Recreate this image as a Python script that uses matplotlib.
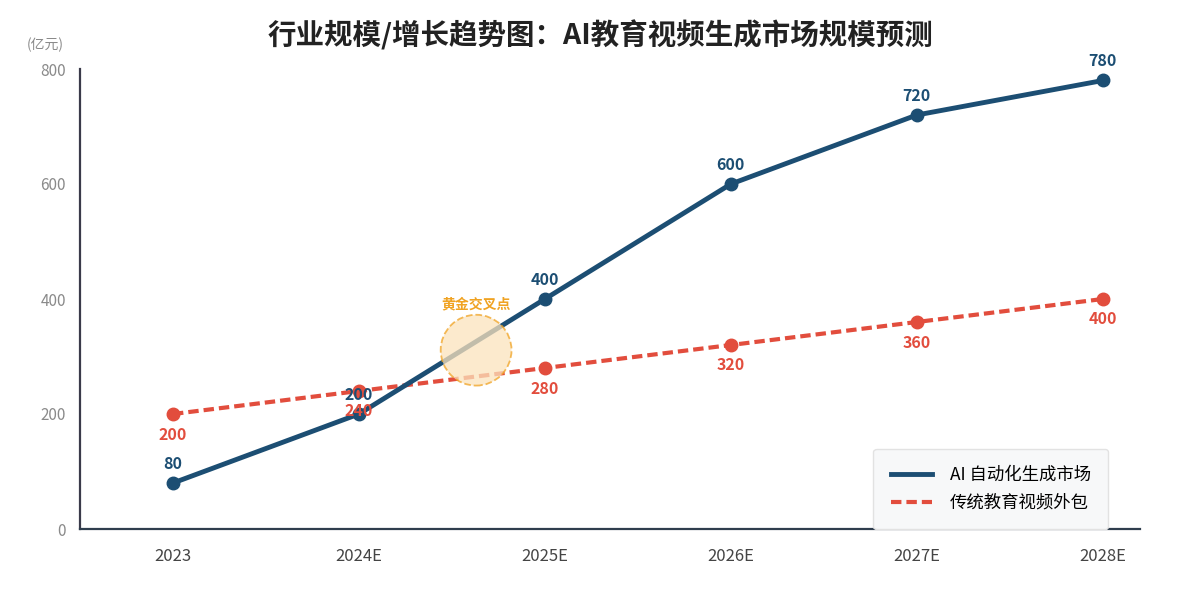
import matplotlib
matplotlib.use("Agg")
import matplotlib.pyplot as plt
import numpy as np

plt.rcParams['font.family'] = ['Noto Sans CJK SC', 'DejaVu Sans']

# data
years = ["2023", "2024E", "2025E", "2026E", "2027E", "2028E"]
ai_market = [80, 200, 400, 600, 720, 780]
traditional = [200, 240, 280, 320, 360, 400]
cross_label = "黄金交叉点"
cross_year_pos = 1.63
cross_value = 311

blue = "#1c4e73"
red = "#e24d3d"
gold = "#f0a323"

fig = plt.figure(figsize=(12, 6), dpi=100)
ax = fig.add_axes([80 / 1200, 71 / 600, 1060 / 1200, 460 / 600])

x = np.arange(len(years))

ax.plot(x, ai_market, color=blue, lw=3.5, marker='o', ms=9, zorder=4,
        label="AI 自动化生成市场", clip_on=False)
ax.plot(x, traditional, color=red, lw=3, ls=(0, (2.5, 1.2)), marker='o', ms=9,
        zorder=3, label="传统教育视频外包", clip_on=False)

for xi, v in zip(x, ai_market):
    ax.annotate(str(v), (xi, v), xytext=(0, 8), textcoords='offset points',
                ha='center', va='bottom', color=blue, fontsize=11.5,
                fontweight='bold', zorder=6)
for xi, v in zip(x, traditional):
    ax.annotate(str(v), (xi, v), xytext=(0, -9), textcoords='offset points',
                ha='center', va='top', color=red, fontsize=11.5,
                fontweight='bold', zorder=5)

# golden cross highlight
ax.scatter([cross_year_pos], [cross_value], s=2600, facecolor='#fbe3bd',
           edgecolor=gold, linestyle='--', linewidth=1.3, alpha=0.75, zorder=5)
ax.annotate(cross_label, (cross_year_pos, cross_value), xytext=(0, 28),
            textcoords='offset points', ha='center', va='bottom',
            color=gold, fontsize=10, fontweight='bold')

ax.set_xlim(-0.5, 5.2)
ax.set_ylim(0, 800)
ax.set_xticks(x)
ax.set_xticklabels(years)
ax.set_yticks([0, 200, 400, 600, 800])
ax.tick_params(axis='x', length=0, pad=14, labelsize=12, labelcolor='#444444')
ax.tick_params(axis='y', length=0, pad=10, labelsize=11, labelcolor='#8a8a8a')

for side in ['top', 'right']:
    ax.spines[side].set_visible(False)
ax.spines['left'].set_color('#3a3a4a')
ax.spines['left'].set_linewidth(1.6)
ax.spines['bottom'].set_color('#2f3e4e')
ax.spines['bottom'].set_linewidth(1.6)

fig.text(45 / 1200, 1 - 45 / 600, "(亿元)", ha='center', va='center',
         color='#8a8a8a', fontsize=10)
fig.suptitle("行业规模/增长趋势图：AI教育视频生成市场规模预测", y=1 - 35 / 600,
             va='center', fontsize=20.5, fontweight='bold', color='#222222')

leg = ax.legend(loc='lower right', bbox_to_anchor=(0.97, 0.0), fontsize=12.5,
                frameon=True, fancybox=True, handlelength=2.4, borderpad=1.0,
                labelspacing=0.55, handletextpad=1.0, borderaxespad=0)
leg.get_frame().set_facecolor('#f7f8f9')
leg.get_frame().set_edgecolor('#e2e2e2')
leg.get_frame().set_alpha(1)
for h in leg.legend_handles:
    h.set_marker('')
leg.set_zorder(10)

fig.savefig("out.png", dpi=100)
